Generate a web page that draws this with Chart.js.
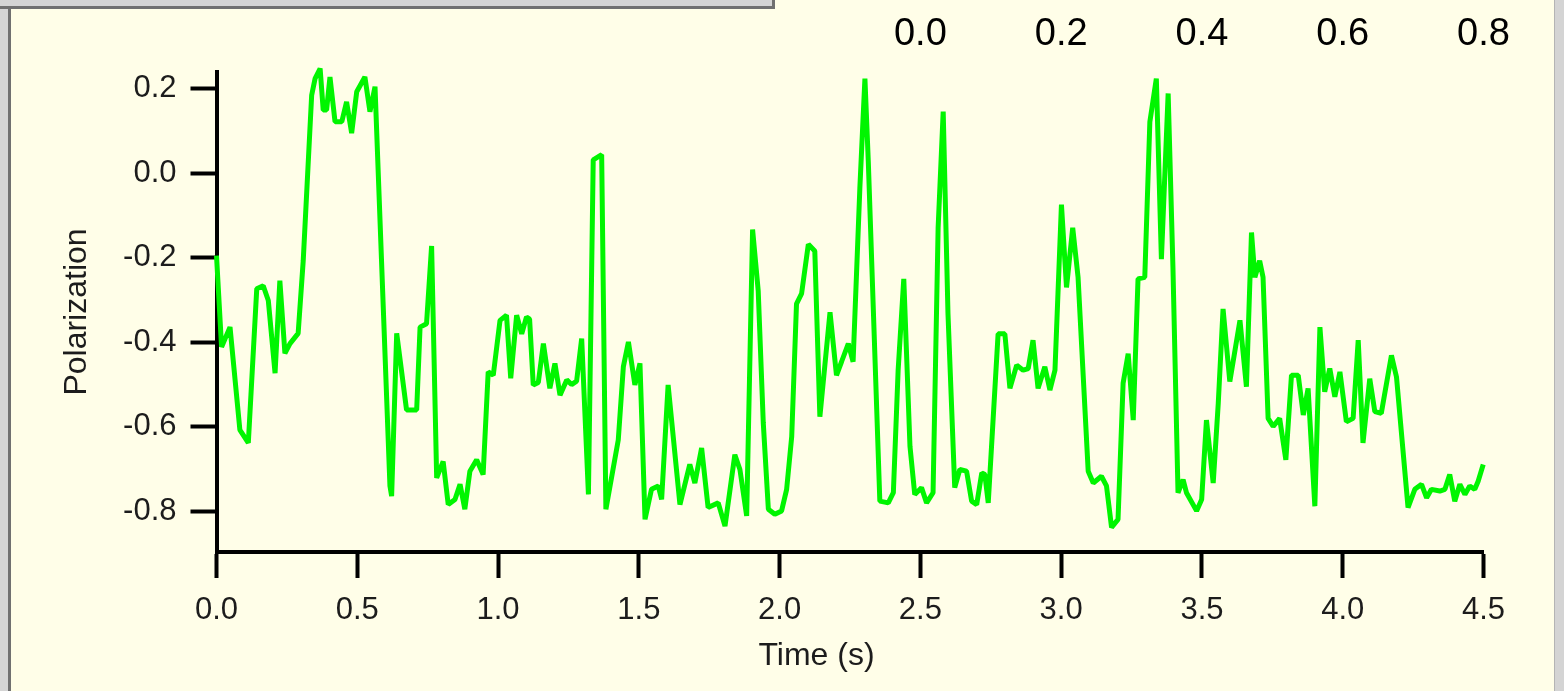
<!DOCTYPE html>
<html>
<head>
<meta charset="utf-8">
<title>Polarization vs time</title>
<script src="https://cdn.jsdelivr.net/npm/chart.js"></script>
<style>
  html, body { margin: 0; padding: 0; }
  body {
    width: 1564px;
    height: 691px;
    overflow: hidden;
    position: relative;
    background: #fffee8;
  }
  #chart { position: absolute; left: 0; top: 0; }
  .frame { position: absolute; background: #d4d4d4; z-index: 2; }
  .frame-left { left: 0; top: 0; width: 8px; height: 691px; border-right: 3px solid #707070; }
  .frame-top { left: 0; top: 0; width: 772px; height: 6px; border-bottom: 3px solid #707070; border-right: 3px solid #707070; }
  .frame-right { left: 1554px; top: 0; width: 10px; height: 691px; border-left: 1px solid #b4b4b4; }
</style>
</head>
<body>
<div class="frame frame-left"></div>
<div class="frame frame-top"></div>
<div class="frame frame-right"></div>
<canvas id="chart" width="1564" height="691"></canvas>
<script>
// time (s) of each sample
const times = [
  0.000, 0.018, 0.048, 0.083, 0.113, 0.143, 0.166, 0.184, 0.208, 0.225,
  0.243, 0.261, 0.290, 0.308, 0.338, 0.350, 0.368, 0.379, 0.391, 0.403,
  0.421, 0.445, 0.462, 0.480, 0.498, 0.527, 0.545, 0.563, 0.616, 0.622,
  0.640, 0.675, 0.711, 0.723, 0.746, 0.764, 0.782, 0.805, 0.823, 0.847,
  0.865, 0.882, 0.900, 0.924, 0.947, 0.965, 0.983, 1.007, 1.030, 1.045,
  1.066, 1.084, 1.101, 1.112, 1.125, 1.143, 1.161, 1.184, 1.202, 1.220,
  1.244, 1.261, 1.279, 1.297, 1.321, 1.338, 1.368, 1.383, 1.427, 1.445,
  1.463, 1.486, 1.504, 1.522, 1.545, 1.569, 1.581, 1.604, 1.646, 1.681,
  1.699, 1.723, 1.746, 1.782, 1.806, 1.841, 1.859, 1.883, 1.904, 1.924,
  1.942, 1.960, 1.983, 2.007, 2.025, 2.043, 2.060, 2.078, 2.102, 2.125,
  2.143, 2.179, 2.202, 2.220, 2.244, 2.261, 2.285, 2.303, 2.315, 2.356,
  2.386, 2.404, 2.421, 2.441, 2.463, 2.480, 2.504, 2.522, 2.545, 2.563,
  2.581, 2.598, 2.622, 2.640, 2.664, 2.682, 2.700, 2.718, 2.729, 2.741,
  2.776, 2.800, 2.818, 2.842, 2.865, 2.883, 2.900, 2.918, 2.942, 2.960,
  2.978, 3.001, 3.019, 3.041, 3.060, 3.096, 3.114, 3.143, 3.161, 3.179,
  3.202, 3.220, 3.238, 3.256, 3.273, 3.297, 3.315, 3.338, 3.356, 3.380,
  3.397, 3.415, 3.433, 3.445, 3.481, 3.499, 3.516, 3.540, 3.558, 3.575,
  3.599, 3.635, 3.658, 3.676, 3.688, 3.705, 3.717, 3.735, 3.753, 3.776,
  3.798, 3.818, 3.842, 3.860, 3.877, 3.901, 3.919, 3.936, 3.954, 3.972,
  3.990, 4.013, 4.037, 4.055, 4.072, 4.096, 4.114, 4.137, 4.173, 4.191,
  4.232, 4.256, 4.280, 4.298, 4.315, 4.345, 4.363, 4.380, 4.398, 4.416,
  4.434, 4.451, 4.469, 4.481, 4.499,
];

const polarization = [
  -0.195, -0.411, -0.364, -0.607, -0.638, -0.273, -0.266, -0.301, -0.473, -0.254,
  -0.426, -0.403, -0.379, -0.207, 0.185, 0.224, 0.248, 0.150, 0.150, 0.228,
  0.122, 0.122, 0.169, 0.095, 0.193, 0.228, 0.146, 0.205, -0.740, -0.764,
  -0.379, -0.560, -0.560, -0.364, -0.356, -0.172, -0.721, -0.682, -0.784, -0.772,
  -0.736, -0.795, -0.705, -0.678, -0.713, -0.470, -0.478, -0.348, -0.336, -0.485,
  -0.336, -0.380, -0.340, -0.345, -0.501, -0.495, -0.403, -0.509, -0.450, -0.525,
  -0.489, -0.500, -0.492, -0.391, -0.760, 0.032, 0.044, -0.795, -0.631, -0.458,
  -0.399, -0.501, -0.450, -0.819, -0.748, -0.740, -0.772, -0.501, -0.784, -0.689,
  -0.733, -0.650, -0.791, -0.780, -0.835, -0.666, -0.701, -0.811, -0.133, -0.278,
  -0.591, -0.795, -0.807, -0.799, -0.748, -0.623, -0.309, -0.285, -0.168, -0.184,
  -0.576, -0.329, -0.478, -0.446, -0.403, -0.446, -0.035, 0.224, 0.028, -0.776,
  -0.780, -0.756, -0.466, -0.250, -0.646, -0.760, -0.744, -0.780, -0.756, -0.129,
  0.146, -0.332, -0.744, -0.701, -0.705, -0.776, -0.784, -0.709, -0.713, -0.780,
  -0.380, -0.380, -0.509, -0.454, -0.466, -0.462, -0.395, -0.509, -0.458, -0.513,
  -0.466, -0.074, -0.270, -0.129, -0.246, -0.705, -0.733, -0.717, -0.740, -0.838,
  -0.819, -0.497, -0.427, -0.584, -0.250, -0.246, 0.122, 0.224, -0.203, 0.189,
  -0.223, -0.756, -0.725, -0.756, -0.799, -0.772, -0.584, -0.733, -0.544, -0.321,
  -0.493, -0.348, -0.505, -0.140, -0.246, -0.207, -0.246, -0.580, -0.599, -0.580,
  -0.678, -0.478, -0.478, -0.572, -0.509, -0.788, -0.364, -0.517, -0.462, -0.529,
  -0.470, -0.588, -0.580, -0.395, -0.638, -0.486, -0.564, -0.568, -0.431, -0.482,
  -0.791, -0.748, -0.736, -0.768, -0.748, -0.752, -0.748, -0.713, -0.776, -0.736,
  -0.760, -0.740, -0.748, -0.729, -0.689,
];

// axis ranges and tick steps
const timeRange = [0, 4.5];
const timeStep = 0.5;
const topRange = [-1.0, 0.8];
const topStep = 0.2;
const polRange = [-0.8963, 0.2398];
const polStep = 0.2;

const xTitle = "Time (s)";
const yTitle = "Polarization";

const textColor = "#1c1c1c";
const fontFamily = '"Liberation Sans", Arial, sans-serif';

function fmt(v) {
  if (Math.abs(v) < 1e-9) v = 0;
  return v.toFixed(1);
}

// x title sits a bit left of the axis centre in the original
const xTitlePlugin = {
  id: "xTitle",
  afterDraw(chart) {
    const { ctx, chartArea } = chart;
    ctx.save();
    ctx.font = "32px " + fontFamily;
    ctx.fillStyle = textColor;
    ctx.textAlign = "center";
    ctx.textBaseline = "middle";
    ctx.fillText(xTitle, chartArea.left + 600, chartArea.bottom + 104);
    ctx.restore();
  },
};

document.addEventListener("DOMContentLoaded", () => {
  const points = times.map((t, i) => ({ x: t, y: polarization[i] }));

  new Chart(document.getElementById("chart"), {
    type: "line",
    data: {
      datasets: [
        {
          data: points,
          borderColor: "#00f500",
          borderWidth: 5,
          borderJoinStyle: "bevel",
          pointRadius: 0,
          tension: 0,
          clip: false,
        },
      ],
    },
    options: {
      responsive: false,
      devicePixelRatio: 1,
      animation: false,
      layout: { padding: { left: 0, right: 80.5, top: 0, bottom: 0 } },
      plugins: { legend: { display: false }, tooltip: { enabled: false } },
      scales: {
        x: {
          type: "linear",
          position: "bottom",
          min: timeRange[0],
          max: timeRange[1],
          afterFit: (s) => { s.height = 139; },
          ticks: {
            stepSize: timeStep,
            callback: (v) => fmt(v),
            font: { family: fontFamily, size: 31 },
            color: textColor,
            padding: 14,
            maxRotation: 0,
            autoSkip: false,
          },
          grid: { drawOnChartArea: false, tickLength: 26, tickWidth: 4, tickColor: "#000" },
          border: { display: true, width: 4, color: "#000" },
        },
        x2: {
          type: "linear",
          position: "top",
          min: topRange[0],
          max: topRange[1],
          afterFit: (s) => { s.height = 72; },
          ticks: {
            stepSize: topStep,
            callback: (v) => (v < -1e-9 ? "" : fmt(v)),
            font: { family: fontFamily, size: 38 },
            color: "#000",
            padding: 15,
            maxRotation: 0,
            autoSkip: false,
          },
          grid: { display: false, drawTicks: false },
          border: { display: false },
        },
        y: {
          type: "linear",
          min: polRange[0],
          max: polRange[1],
          afterFit: (s) => { s.width = 216.5; },
          ticks: {
            stepSize: polStep,
            includeBounds: false,
            callback: (v) => fmt(v),
            font: { family: fontFamily, size: 31 },
            color: textColor,
            padding: 14,
          },
          grid: { drawOnChartArea: false, tickLength: 26, tickWidth: 4, tickColor: "#000" },
          border: { display: true, width: 4, color: "#000" },
          title: {
            display: true,
            text: yTitle,
            font: { family: fontFamily, size: 32 },
            color: textColor,
            padding: { top: 58, bottom: 0 },
          },
        },
      },
    },
    plugins: [xTitlePlugin],
  });
});
</script>
</body>
</html>
